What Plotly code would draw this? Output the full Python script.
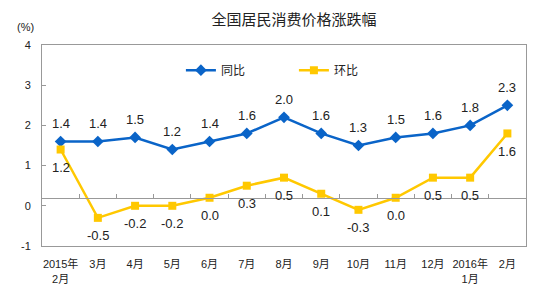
import plotly.graph_objects as go

months = ["2015年<br>2月", "3月", "4月", "5月", "6月", "7月", "8月", "9月",
          "10月", "11月", "12月", "2016年<br>1月", "2月"]
yoy = [1.4, 1.4, 1.5, 1.2, 1.4, 1.6, 2.0, 1.6, 1.3, 1.5, 1.6, 1.8, 2.3]
mom = [1.2, -0.5, -0.2, -0.2, 0.0, 0.3, 0.5, 0.1, -0.3, 0.0, 0.5, 0.5, 1.6]

# the original chart draws its value axis labels 0.2 below the data zero
y_ticks = [-1, 0, 1, 2, 3, 4]
y_shift = 0.2

BLUE = "#0a64c8"
YELLOW = "#ffc800"
FONT = "Liberation Sans, Noto Sans CJK SC, sans-serif"

x = list(range(len(months)))

fig = go.Figure()
fig.add_trace(go.Scatter(
    x=x, y=yoy, name="同比", mode="lines+markers",
    line=dict(color=BLUE, width=2.5),
    marker=dict(symbol="diamond", size=9, color=BLUE),
))
fig.add_trace(go.Scatter(
    x=x, y=mom, name="环比", mode="lines+markers",
    line=dict(color=YELLOW, width=2.5),
    marker=dict(symbol="square", size=8, color=YELLOW),
))
# invisible trace to carry the zero-line axis with category ticks
fig.add_trace(go.Scatter(x=x, y=yoy, xaxis="x2", mode="none",
                         showlegend=False, hoverinfo="skip"))

# value labels: 同比 above, 环比 below
for xi, v in zip(x, yoy):
    fig.add_annotation(x=xi, y=v, text=f"{v:.1f}", showarrow=False,
                       yshift=18, font=dict(size=13, color="#222"))
for xi, v in zip(x, mom):
    fig.add_annotation(x=xi, y=v, text=f"{v:.1f}", showarrow=False,
                       yshift=-18, font=dict(size=13, color="#222"))

lo = y_ticks[0] - y_shift
hi = y_ticks[-1] - y_shift

# page has an 8px body margin, so the figure is drawn 8px smaller
fig.update_layout(
    width=545, height=299,
    margin=dict(l=34, r=27, t=37, b=61),
    paper_bgcolor="white", plot_bgcolor="white",
    font=dict(family=FONT, size=11, color="#222"),
    title=dict(text="全国居民消费价格涨跌幅", x=0.525, xanchor="center",
               y=0.96, yanchor="middle", font=dict(size=15, color="#222")),
    showlegend=True,
    legend=dict(orientation="h", x=0.287, y=0.875, xanchor="left", yanchor="middle",
                bgcolor="rgba(0,0,0,0)", font=dict(size=12),
                entrywidth=68, itemwidth=30),
    xaxis=dict(range=[-0.5, len(months) - 0.5], tickmode="array", tickvals=x,
               ticktext=months, showline=True, linecolor="#999", mirror=True,
               ticks="", showgrid=False, zeroline=False,
               tickfont=dict(size=11), ticklabelstandoff=8),
    xaxis2=dict(range=[-0.5, len(months) - 0.5], overlaying="x", anchor="free",
                position=(0 - lo) / (hi - lo), side="bottom",
                tickmode="array", tickvals=[i + 0.5 for i in x[:-1]],
                ticks="inside", ticklen=4, tickcolor="#999",
                showticklabels=False, showline=True, linecolor="#999",
                linewidth=1, showgrid=False, zeroline=False),
    yaxis=dict(range=[lo, hi], tickmode="array",
               tickvals=[t - y_shift for t in y_ticks],
               ticktext=[str(t) for t in y_ticks],
               showline=True, linecolor="#999", mirror=True,
               ticks="inside", ticklen=4, tickcolor="#999",
               showgrid=False, zeroline=False, tickfont=dict(size=11),
               ticklabelstandoff=8),
)

fig.add_annotation(text="(%)", xref="paper", yref="paper", x=-0.012, y=1.09,
                   xanchor="right", yanchor="middle", showarrow=False,
                   font=dict(size=11))

fig.write_html("out.html")
